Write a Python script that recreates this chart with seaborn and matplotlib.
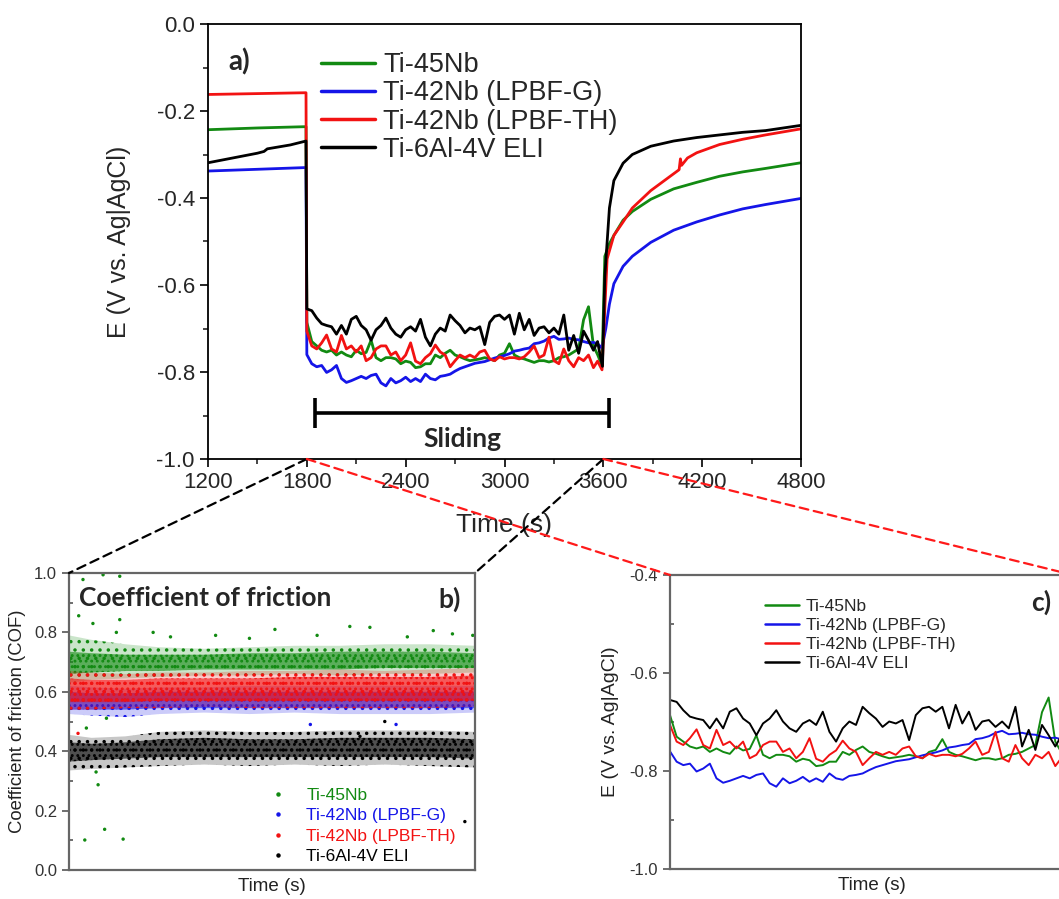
import numpy as np
import pandas as pd
import matplotlib
matplotlib.use("Agg")
import matplotlib.pyplot as plt
import seaborn as sns
from matplotlib.patches import ConnectionPatch
from matplotlib.lines import Line2D
from matplotlib.colors import to_rgba
from matplotlib.ticker import MultipleLocator, NullLocator

sns.set_style("ticks")
plt.rcParams["font.family"] = ["Liberation Sans", "DejaVu Sans"]
plt.rcParams["axes.unicode_minus"] = False
plt.rcParams["hatch.linewidth"] = 1.3

# ---------------- data ----------------
SERIES = ["Ti-45Nb", "Ti-42Nb (LPBF-G)", "Ti-42Nb (LPBF-TH)", "Ti-6Al-4V ELI"]
COLORS = ["#128a12", "#1515e8", "#f21212", "#000000"]

# open-circuit potential before sliding
PRE_T = {
    "Ti-45Nb": [1200, 1500, 1795],
    "Ti-42Nb (LPBF-G)": [1200, 1500, 1795],
    "Ti-42Nb (LPBF-TH)": [1200, 1500, 1795],
    "Ti-6Al-4V ELI": [1200, 1350, 1500, 1540, 1560, 1700, 1795],
}
PRE_E = {
    "Ti-45Nb": [-0.243, -0.239, -0.236],
    "Ti-42Nb (LPBF-G)": [-0.338, -0.334, -0.330],
    "Ti-42Nb (LPBF-TH)": [-0.162, -0.160, -0.158],
    "Ti-6Al-4V ELI": [-0.319, -0.308, -0.297, -0.293, -0.287, -0.278, -0.269],
}

# potential during sliding (sample times)
SLIDE_T = list(range(1800, 3541, 30))
SLIDE_E = {
    "Ti-45Nb": [-0.686, -0.730, -0.740, -0.750, -0.754, -0.750, -0.761, -0.754, -0.761, -0.765,
                -0.750, -0.758, -0.755, -0.727, -0.767, -0.774, -0.767, -0.767, -0.770, -0.781,
                -0.775, -0.778, -0.790, -0.788, -0.781, -0.781, -0.761, -0.767, -0.757, -0.750,
                -0.761, -0.765, -0.770, -0.774, -0.772, -0.770, -0.767, -0.770, -0.774, -0.761,
                -0.757, -0.735, -0.761, -0.767, -0.770, -0.774, -0.778, -0.774, -0.774, -0.777,
                -0.774, -0.767, -0.765, -0.761, -0.754, -0.747, -0.680, -0.650, -0.740],
    "Ti-42Nb (LPBF-G)": [-0.760, -0.781, -0.788, -0.785, -0.801, -0.795, -0.785, -0.815, -0.824, -0.820,
                         -0.815, -0.810, -0.815, -0.808, -0.805, -0.825, -0.832, -0.815, -0.825, -0.820,
                         -0.812, -0.822, -0.815, -0.822, -0.805, -0.815, -0.818, -0.810, -0.808, -0.805,
                         -0.798, -0.792, -0.788, -0.784, -0.780, -0.778, -0.776, -0.772, -0.768, -0.765,
                         -0.762, -0.758, -0.752, -0.750, -0.747, -0.745, -0.735, -0.733, -0.729, -0.722,
                         -0.718, -0.725, -0.724, -0.722, -0.725, -0.726, -0.730, -0.733, -0.732],
    "Ti-42Nb (LPBF-TH)": [-0.706, -0.740, -0.747, -0.733, -0.715, -0.747, -0.754, -0.716, -0.747, -0.740,
                          -0.754, -0.740, -0.774, -0.767, -0.747, -0.740, -0.740, -0.761, -0.754, -0.774,
                          -0.761, -0.733, -0.775, -0.781, -0.767, -0.758, -0.738, -0.754, -0.761, -0.788,
                          -0.774, -0.761, -0.767, -0.761, -0.767, -0.754, -0.750, -0.770, -0.774, -0.765,
                          -0.770, -0.767, -0.767, -0.770, -0.765, -0.754, -0.740, -0.767, -0.761, -0.720,
                          -0.774, -0.781, -0.747, -0.774, -0.788, -0.767, -0.774, -0.761, -0.790],
    "Ti-6Al-4V ELI": [-0.655, -0.659, -0.676, -0.689, -0.693, -0.696, -0.713, -0.693, -0.713, -0.679,
                      -0.672, -0.693, -0.703, -0.727, -0.703, -0.693, -0.676, -0.699, -0.713, -0.720,
                      -0.703, -0.696, -0.706, -0.679, -0.720, -0.740, -0.713, -0.699, -0.706, -0.669,
                      -0.682, -0.693, -0.710, -0.699, -0.703, -0.696, -0.737, -0.686, -0.672, -0.669,
                      -0.679, -0.669, -0.713, -0.665, -0.703, -0.679, -0.716, -0.699, -0.696, -0.710,
                      -0.699, -0.713, -0.669, -0.750, -0.716, -0.757, -0.706, -0.727, -0.750],
}

# end of sliding and recovery afterwards
POST_T = {
    "Ti-45Nb": [3565, 3592, 3609, 3637, 3664, 3720, 3776, 3888, 4027, 4167, 4306, 4446, 4585, 4800],
    "Ti-42Nb (LPBF-G)": [3565, 3592, 3615, 3637, 3664, 3720, 3776, 3888, 4027, 4167, 4306, 4446, 4585, 4800],
    "Ti-42Nb (LPBF-TH)": [3565, 3592, 3623, 3664, 3720, 3776, 3888, 3999, 4060, 4068, 4075, 4111, 4167,
                          4306, 4446, 4585, 4800],
    "Ti-6Al-4V ELI": [3565, 3580, 3595, 3609, 3637, 3664, 3720, 3776, 3888, 4027, 4167, 4306, 4446, 4585, 4800],
}
POST_E = {
    "Ti-45Nb": [-0.760, -0.785, -0.534, -0.505, -0.486, -0.451, -0.431, -0.403, -0.379, -0.364, -0.350,
                -0.340, -0.332, -0.319],
    "Ti-42Nb (LPBF-G)": [-0.735, -0.745, -0.700, -0.644, -0.597, -0.557, -0.534, -0.502, -0.474, -0.455,
                         -0.439, -0.425, -0.415, -0.401],
    "Ti-42Nb (LPBF-TH)": [-0.775, -0.795, -0.540, -0.486, -0.455, -0.423, -0.383, -0.352, -0.335, -0.310,
                          -0.325, -0.308, -0.296, -0.277, -0.265, -0.255, -0.241],
    "Ti-6Al-4V ELI": [-0.730, -0.760, -0.787, -0.580, -0.423, -0.360, -0.320, -0.300, -0.281, -0.269,
                      -0.261, -0.255, -0.249, -0.245, -0.233],
}

SLIDING_START, SLIDING_END = 1850, 3635

# coefficient of friction: envelopes of the point clouds (outer = sparse, core = dense)
COF_T = [1800, 1900, 2050, 2200, 2400, 2600, 2800, 3000, 3200, 3400, 3600]
COF_OUT_LO = {
    "Ti-45Nb": [0.630, 0.640, 0.645, 0.650, 0.655, 0.655, 0.660, 0.655, 0.660, 0.660, 0.665],
    "Ti-42Nb (LPBF-G)": [0.525, 0.520, 0.515, 0.525, 0.530, 0.525, 0.530, 0.525, 0.525, 0.525, 0.530],
    "Ti-42Nb (LPBF-TH)": [0.540, 0.540, 0.545, 0.545, 0.550, 0.545, 0.545, 0.545, 0.545, 0.545, 0.550],
    "Ti-6Al-4V ELI": [0.335, 0.340, 0.345, 0.350, 0.355, 0.350, 0.355, 0.350, 0.355, 0.350, 0.345],
}
COF_OUT_HI = {
    "Ti-45Nb": [0.790, 0.775, 0.760, 0.750, 0.745, 0.750, 0.755, 0.755, 0.760, 0.760, 0.755],
    "Ti-42Nb (LPBF-G)": [0.620, 0.615, 0.610, 0.615, 0.615, 0.620, 0.620, 0.620, 0.620, 0.620, 0.620],
    "Ti-42Nb (LPBF-TH)": [0.670, 0.665, 0.660, 0.665, 0.665, 0.670, 0.670, 0.675, 0.670, 0.675, 0.680],
    "Ti-6Al-4V ELI": [0.455, 0.445, 0.450, 0.465, 0.470, 0.465, 0.465, 0.470, 0.470, 0.470, 0.465],
}
COF_CORE_LO = {
    "Ti-45Nb": [0.660, 0.665, 0.670, 0.670, 0.675, 0.675, 0.675, 0.675, 0.680, 0.680, 0.680],
    "Ti-42Nb (LPBF-G)": [0.540, 0.540, 0.540, 0.545, 0.545, 0.545, 0.545, 0.545, 0.545, 0.545, 0.545],
    "Ti-42Nb (LPBF-TH)": [0.565, 0.565, 0.565, 0.570, 0.570, 0.570, 0.570, 0.570, 0.570, 0.570, 0.570],
    "Ti-6Al-4V ELI": [0.365, 0.370, 0.375, 0.380, 0.380, 0.380, 0.380, 0.380, 0.380, 0.380, 0.375],
}
COF_CORE_HI = {
    "Ti-45Nb": [0.735, 0.730, 0.725, 0.725, 0.725, 0.730, 0.730, 0.735, 0.735, 0.735, 0.730],
    "Ti-42Nb (LPBF-G)": [0.600, 0.595, 0.595, 0.600, 0.600, 0.600, 0.600, 0.600, 0.600, 0.600, 0.600],
    "Ti-42Nb (LPBF-TH)": [0.645, 0.640, 0.640, 0.645, 0.645, 0.645, 0.650, 0.650, 0.650, 0.650, 0.655],
    "Ti-6Al-4V ELI": [0.430, 0.425, 0.430, 0.440, 0.445, 0.440, 0.440, 0.445, 0.445, 0.445, 0.440],
}
# isolated points outside the clouds
OUT_T = [1862, 1951, 2025, 1843, 1870, 1958, 2040, 1929, 1920, 1906, 2010, 2173, 2713, 3045, 3134,
         3415, 3590, 2025, 1877, 1966, 2250, 2450, 2600, 2900, 3300, 3500,
         3555, 3090, 3200,
         3250, 2870, 1840]
OUT_COF = [0.978, 0.994, 0.989, 0.856, 0.101, 0.137, 0.104, 0.287, 0.330, 0.830, 0.800, 0.800, 0.810,
           0.820, 0.817, 0.806, 0.790, 0.843, 0.478, 0.511, 0.785, 0.790, 0.780, 0.790, 0.785, 0.795,
           0.163, 0.450, 0.500,
           0.490, 0.490, 0.460]
OUT_SERIES = ["Ti-45Nb"] * 26 + ["Ti-6Al-4V ELI"] * 3 + ["Ti-42Nb (LPBF-G)"] * 2 + ["Ti-42Nb (LPBF-TH)"]

# ---------------- tables ----------------
rows = []
for s in SERIES:
    for t, e in zip(PRE_T[s], PRE_E[s]):
        rows.append((s, t, e))
    for t, e in zip(SLIDE_T, SLIDE_E[s]):
        rows.append((s, t, e))
    for t, e in zip(POST_T[s], POST_E[s]):
        rows.append((s, t, e))
df = pd.DataFrame(rows, columns=["series", "time", "E"])
df_slide = df[(df["time"] >= 1800) & (df["time"] <= 3600)]
pal = dict(zip(SERIES, COLORS))

W, H = 1059, 899
fig = plt.figure(figsize=(W / 100, H / 100), dpi=100)


def frac(x0, y0, x1, y1):
    return [x0 / W, 1 - y1 / H, (x1 - x0) / W, (y1 - y0) / H]


ax_a = fig.add_axes(frac(208, 24, 801, 459))
ax_b = fig.add_axes(frac(69, 573, 475, 870))
ax_c = fig.add_axes(frac(670, 575, 1073, 869))

# ---------------- panel a ----------------
sns.lineplot(data=df, x="time", y="E", hue="series", hue_order=SERIES, palette=pal,
             estimator=None, sort=False, lw=2.0, legend=False, ax=ax_a)
ax_a.set_xlim(1200, 4800)
ax_a.set_ylim(-1.0, 0.0)
ax_a.xaxis.set_major_locator(MultipleLocator(600))
ax_a.xaxis.set_minor_locator(MultipleLocator(300))
ax_a.yaxis.set_major_locator(MultipleLocator(0.2))
ax_a.yaxis.set_minor_locator(MultipleLocator(0.1))
ax_a.yaxis.set_major_formatter(matplotlib.ticker.FuncFormatter(lambda v, p: f"{v:.1f}".replace("-0.0", "0.0")))
ax_a.tick_params(axis="both", which="major", labelsize=16, direction="out", length=6, width=1.2, color="black")
ax_a.tick_params(axis="both", which="minor", direction="out", length=3.5, width=1.2)
for sp in ax_a.spines.values():
    sp.set_color("black")
    sp.set_linewidth(1.3)
ax_a.set_xlabel("Time (s)", fontsize=19, labelpad=14)
ax_a.set_ylabel("E (V vs. Ag|AgCl)", fontsize=18, labelpad=18)
handles_a = [Line2D([], [], color=c, lw=2.5) for c in COLORS]
ax_a.legend(handles_a, SERIES, loc="upper left", bbox_to_anchor=(0.19, 0.935), frameon=False,
            fontsize=19.5, handlelength=2.0, handletextpad=0.3, labelspacing=0.08, borderpad=0,
            borderaxespad=0)
ax_a.text(0.035, 0.945, "a)", transform=ax_a.transAxes, fontsize=20, fontweight="bold",
          family="Lato", va="top", ha="left")
ax_a.errorbar([(SLIDING_START + SLIDING_END) / 2], [-0.895], xerr=[(SLIDING_END - SLIDING_START) / 2],
              color="black", lw=2.6, capsize=11, capthick=2.6, fmt="none")
ax_a.text((SLIDING_START + SLIDING_END) / 2, -0.955, "Sliding", fontsize=19, fontweight="bold",
          family="Lato", ha="center", va="center")

# ---------------- panel b ----------------
GRAY = "#555555"
for s in SERIES:
    c = pal[s]
    ax_b.fill_between(COF_T, COF_OUT_LO[s], COF_OUT_HI[s], facecolor=to_rgba(c, 0.22),
                      edgecolor=c, hatch="..", linewidth=0)
    ax_b.fill_between(COF_T, COF_CORE_LO[s], COF_CORE_HI[s], facecolor=to_rgba(c, 0.6),
                      edgecolor=c, hatch="...", linewidth=0)
out_df = pd.DataFrame({"time": OUT_T, "COF": OUT_COF, "series": OUT_SERIES})
sns.scatterplot(data=out_df, x="time", y="COF", hue="series", palette=pal, s=6, linewidth=0,
                legend=False, ax=ax_b)
ax_b.set_xlim(1800, 3600)
ax_b.set_ylim(0.0, 1.0)
ax_b.xaxis.set_major_locator(NullLocator())
ax_b.yaxis.set_major_locator(MultipleLocator(0.2))
ax_b.yaxis.set_minor_locator(MultipleLocator(0.1))
ax_b.tick_params(axis="y", which="major", labelsize=12, direction="out", length=5, width=1.2,
                 color=GRAY, labelcolor="#333333")
ax_b.tick_params(axis="y", which="minor", direction="in", length=3, width=1.2, color=GRAY)
for sp in ax_b.spines.values():
    sp.set_color("#666666")
    sp.set_linewidth(1.6)
ax_b.set_xlabel("Time (s)", fontsize=13.5, color="#222222", labelpad=6)
ax_b.set_ylabel("Coefficient of friction (COF)", fontsize=13.3, color="#222222", labelpad=6)
handles_b = [Line2D([], [], color=c, marker="o", ls="", markersize=2.2) for c in COLORS]
ax_b.legend(handles_b, SERIES, loc="lower left", bbox_to_anchor=(0.49, 0.02), frameon=False,
            fontsize=12.5, labelcolor=COLORS, handlelength=1.2, handletextpad=1.0,
            labelspacing=0.3, borderpad=0, borderaxespad=0)
ax_b.text(0.025, 0.955, "Coefficient of friction", transform=ax_b.transAxes, fontsize=19,
          fontweight="bold", family="Lato", va="top", ha="left")
ax_b.text(0.965, 0.955, "b)", transform=ax_b.transAxes, fontsize=19,
          fontweight="bold", family="Lato", va="top", ha="right")

# ---------------- panel c ----------------
sns.lineplot(data=df_slide, x="time", y="E", hue="series", hue_order=SERIES, palette=pal,
             estimator=None, sort=False, lw=1.4, legend=False, ax=ax_c)
ax_c.set_xlim(1800, 3620)
ax_c.set_ylim(-1.0, -0.4)
ax_c.xaxis.set_major_locator(NullLocator())
ax_c.yaxis.set_major_locator(MultipleLocator(0.2))
ax_c.yaxis.set_minor_locator(MultipleLocator(0.1))
ax_c.tick_params(axis="y", which="major", labelsize=12, direction="out", length=5, width=1.2,
                 color=GRAY, labelcolor="#333333")
ax_c.tick_params(axis="y", which="minor", direction="in", length=3, width=1.2, color=GRAY)
for sp in ax_c.spines.values():
    sp.set_color("#666666")
    sp.set_linewidth(1.6)
ax_c.set_xlabel("Time (s)", fontsize=13.5, color="#222222", labelpad=6)
ax_c.set_ylabel("E (V vs. Ag|AgCl)", fontsize=14, color="#222222", labelpad=8)
handles_c = [Line2D([], [], color=c, lw=1.8) for c in COLORS]
ax_c.legend(handles_c, SERIES, loc="upper left", bbox_to_anchor=(0.235, 0.92), frameon=False,
            fontsize=12.5, handlelength=2.0, handletextpad=0.35, labelspacing=0.22, borderpad=0,
            borderaxespad=0)
ax_c.text(0.945, 0.95, "c)", transform=ax_c.transAxes, fontsize=19,
          fontweight="bold", family="Lato", va="top", ha="right")

# ---------------- zoom connectors ----------------
for (t, ax_to, corner, col) in [(1800, ax_b, (0, 1), "black"), (3600, ax_b, (1, 1), "black"),
                                (1800, ax_c, (0, 1), "#ff1a1a"), (3600, ax_c, (1, 1), "#ff1a1a")]:
    con = ConnectionPatch(xyA=(t, -1.0), coordsA=ax_a.transData, xyB=corner,
                          coordsB=ax_to.transAxes, color=col, lw=1.6, ls=(0, (4, 2.5)))
    fig.add_artist(con)

fig.savefig("out.png", dpi=100)
